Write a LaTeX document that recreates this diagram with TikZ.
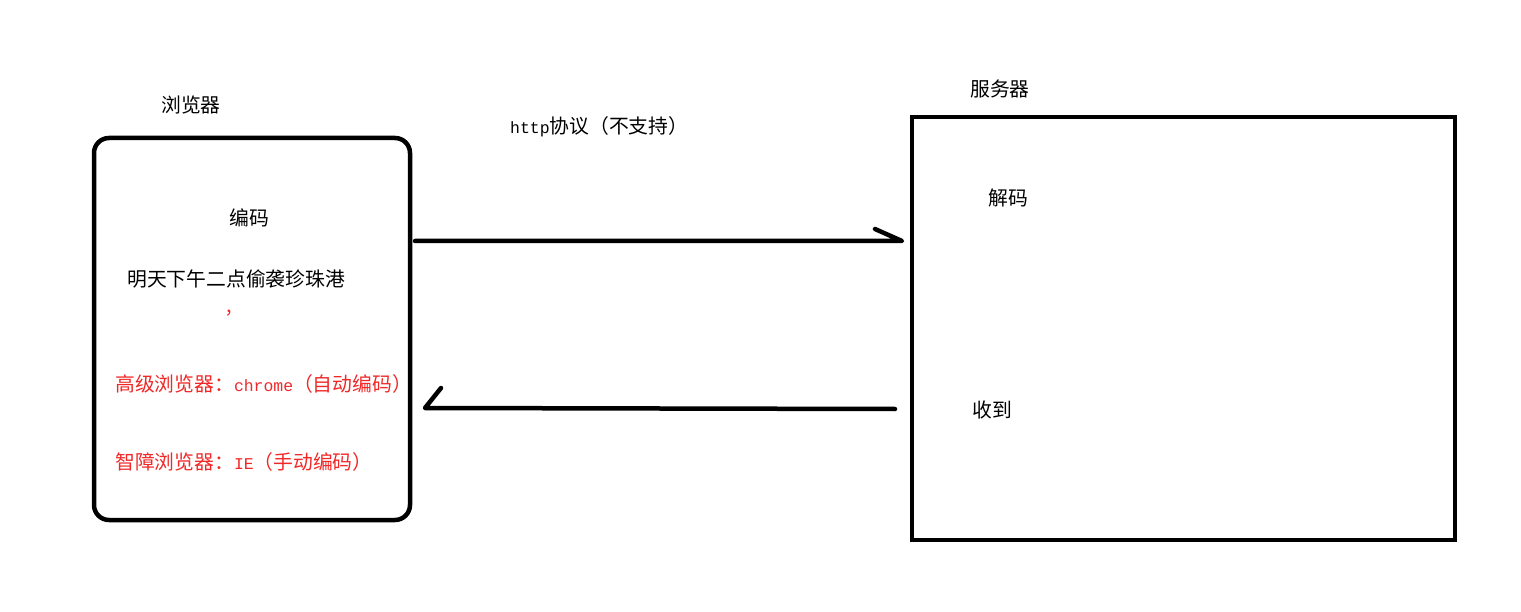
\documentclass[tikz,border=0pt]{standalone}
\usepackage{fontspec}
\newfontfamily\cjk{Noto Sans CJK SC}
\newfontfamily\lat{Liberation Mono}[Scale=0.83]
\definecolor{lblred}{RGB}{240,40,40}
\begin{document}
\begin{tikzpicture}[x=1pt,y=-1pt,
  txt/.style={anchor=west,inner sep=0pt,font=\fontsize{19.8}{23}\selectfont\cjk},
  redtxt/.style={txt,text=lblred},
  boxline/.style={line width=4.5pt},
  conn/.style={line width=4.5pt,line cap=round,line join=round}]
\useasboundingbox (0,0) rectangle (1521,612);
% browser box
\draw[boxline,rounded corners=15pt] (94,138) rectangle (410,520);
\node[txt] (lb) at (161,105) {浏览器};
\node[txt] (enc) at (229,218) {编码};
\node[txt] (msg) at (127,279) {明天下午二点偷袭珍珠港};
\node[redtxt] (comma) at (226,313) {,};
\node[redtxt] (adv) at (115,384) {高级浏览器：{\lat chrome}（自动编码）};
\node[redtxt] (ie) at (115,462) {智障浏览器：{\lat IE}（手动编码）};
% server box
\draw[boxline] (912,117) rectangle (1455,540);
\node[txt] (sv) at (970,89) {服务器};
\node[txt] (dec) at (988,198) {解码};
\node[txt] (rcv) at (972,410) {收到};
% protocol
\node[txt] (http) at (510,127) {{\lat http}协议（不支持）};
% arrows
\coordinate (a1s) at (415,241);
\coordinate (a1e) at (902,241);
\coordinate (a1b) at (875,229);
\draw[conn] (a1s) -- (a1e) -- (a1b);
\coordinate (a2s) at (895,409);
\coordinate (a2e) at (425,408);
\coordinate (a2b) at (441,388);
\draw[conn] (a2s) -- (a2e) -- (a2b);
\end{tikzpicture}
\end{document}
